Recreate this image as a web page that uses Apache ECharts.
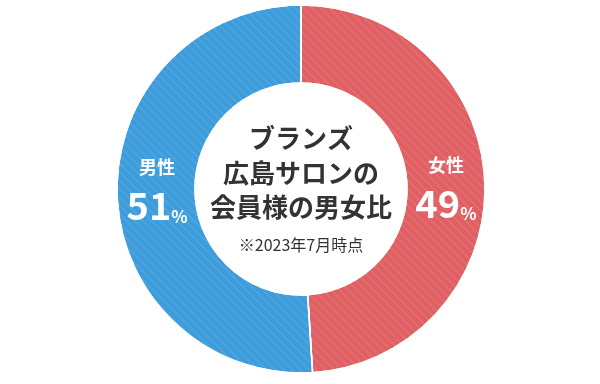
<!DOCTYPE html>
<html><head><meta charset="utf-8">
<script src="https://cdn.jsdelivr.net/npm/echarts@6/dist/echarts.min.js"></script>
<style>html,body{margin:0;padding:0;background:#fff}#c{width:600px;height:384px}</style>
</head><body><div id="c"></div>
<script>
var categories = ['女性', '男性'];
var values = [49, 51];
var colors = ['#e05f62', '#3d9cdb'];
var titleLines = ['ブランズ', '広島サロンの', '会員様の男女比'];
var note = '※2023年7月時点';

var FONT = '"Noto Sans CJK JP", "Noto Sans", sans-serif';
var labelOffsets = [[-3, 2], [4, -5]];
var chart = echarts.init(document.getElementById('c'));
chart.setOption({
  animation: false,
  series: [{
    type: 'pie',
    center: [301, 189],
    radius: [106, 184],
    startAngle: 90,
    clockwise: true,
    silent: true,
    itemStyle: { borderColor: '#fff', borderWidth: 1.5 },
    label: {
      show: true,
      position: 'inside',
      formatter: function (p) { return '{n|' + p.name + '}\n{v|' + p.value + '}{p|%}'; },
      rich: {
        n: { fontFamily: FONT, fontSize: 18, fontWeight: 'bold', color: '#fff', lineHeight: 30, align: 'center' },
        v: { fontFamily: FONT, fontSize: 38, fontWeight: 'bold', color: '#fff', lineHeight: 42, verticalAlign: 'bottom' },
        p: { fontFamily: FONT, fontSize: 17, fontWeight: 'bold', color: '#fff', lineHeight: 30, verticalAlign: 'bottom' }
      }
    },
    labelLine: { show: false },
    data: categories.map(function (c, i) {
      return {
        name: c, value: values[i],
        label: { offset: labelOffsets[i] },
        itemStyle: {
          color: colors[i],
          decal: { symbol: 'rect', dashArrayX: [1, 0], dashArrayY: [2, 4], rotation: Math.PI / 4, color: 'rgba(255,255,255,0.08)' }
        }
      };
    })
  }],
  graphic: [{
    type: 'text', x: 301, y: 121,
    style: {
      text: titleLines.join('\n'), fontFamily: FONT, fontSize: 26, fontWeight: 'bold',
      lineHeight: 34.5, fill: '#333', align: 'center', verticalAlign: 'top'
    }
  }, {
    type: 'text', x: 301, y: 237,
    style: { text: note, fontFamily: FONT, fontSize: 16, fill: '#333', align: 'center', verticalAlign: 'top' }
  }]
});
</script></body></html>
